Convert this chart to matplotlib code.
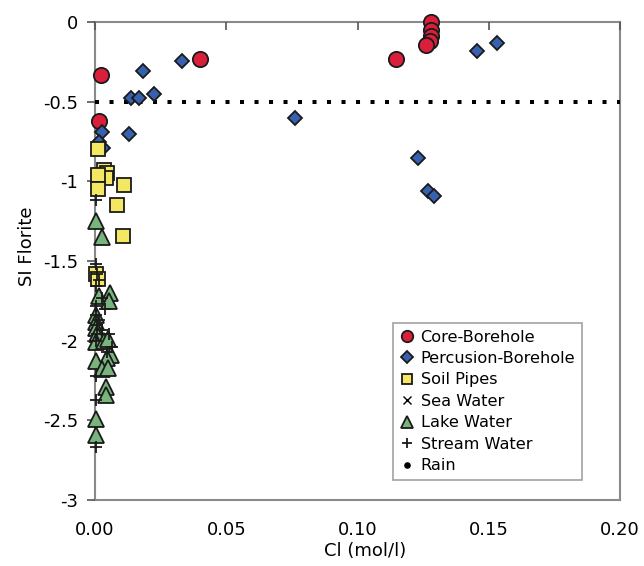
import matplotlib
matplotlib.use("Agg")
import matplotlib.pyplot as plt

# Fluorite saturation index vs chloride, by sample type
core_cl = [0.0023, 0.0015, 0.040, 0.1147, 0.128, 0.128, 0.128, 0.1275, 0.126]
core_si = [-0.33, -0.62, -0.23, -0.23, 0.00, -0.05, -0.09, -0.12, -0.145]

perc_cl = [0.0331, 0.0183, 0.0137, 0.0168, 0.0225, 0.013, 0.0025, 0.0015, 0.003,
           0.0762, 0.123, 0.1269, 0.129, 0.1455, 0.153]
perc_si = [-0.245, -0.31, -0.48, -0.48, -0.45, -0.70, -0.69, -0.75, -0.79,
           -0.60, -0.855, -1.06, -1.09, -0.18, -0.13]

soil_cl = [0.001, 0.0035, 0.0045, 0.004, 0.001, 0.001, 0.011, 0.0085, 0.0107, 0.0005, 0.001]
soil_si = [-0.80, -0.93, -0.95, -0.98, -0.96, -1.05, -1.02, -1.15, -1.34, -1.58, -1.61]

sea_cl = []
sea_si = []

lake_cl = [0.0003, 0.0028, 0.0017, 0.0057, 0.0055, 0.0002, 0.0005, 0.0003, 0.0008,
           0.0004, 0.0035, 0.005, 0.0062, 0.0045, 0.0003, 0.0028, 0.0048, 0.004,
           0.0042, 0.0002, 0.0002]
lake_si = [-1.25, -1.35, -1.72, -1.70, -1.75, -1.84, -1.88, -1.92, -1.96,
           -2.01, -2.00, -1.99, -2.09, -2.11, -2.13, -2.18, -2.17, -2.29,
           -2.34, -2.49, -2.59]

stream_cl = [0.0003, 0.0002, 0.0008, 0.0015, 0.0002, 0.0025, 0.0005, 0.0038, 0.0003,
             0.0015, 0.0006, 0.0025, 0.0008, 0.0055, 0.0003, 0.0065, 0.0045, 0.0003,
             0.0003, 0.0003]
stream_si = [-1.12, -1.52, -1.58, -1.62, -1.66, -1.73, -1.78, -1.80, -1.84,
             -1.87, -1.90, -1.93, -1.96, -1.96, -2.00, -2.04, -2.07, -2.22,
             -2.37, -2.67]

rain_cl = []
rain_si = []

equilibrium_band = -0.5
x_ticks = [0.00, 0.05, 0.10, 0.15, 0.20]
x_tick_labels = ["0.00", "0.05", "0.10", "0.15", "0.20"]
y_ticks = [0, -0.5, -1, -1.5, -2, -2.5, -3]
y_tick_labels = ["0", "-0.5", "-1", "-1.5", "-2", "-2.5", "-3"]

plt.rcParams['font.family'] = ['DejaVu Sans']
fig = plt.figure(figsize=(6.44, 5.66), dpi=100)
ax = fig.add_axes([95 / 644, 1 - 500 / 566, 525 / 644, 478 / 566])

edge = "#1a1a1a"
ax.plot([x_ticks[0], x_ticks[-1]], [equilibrium_band, equilibrium_band],
        color="black", linewidth=2.9, linestyle=(0, (1, 2.6)),
        dash_capstyle="butt", zorder=1)

common = dict(linestyle="none", clip_on=False)
ax.plot(core_cl, core_si, marker="o", markersize=11,
        markerfacecolor="#DA1F3A", markeredgecolor=edge, markeredgewidth=1.3,
        label="Core-Borehole", zorder=3, **common)
ax.plot(perc_cl, perc_si, marker="D", markersize=7.6,
        markerfacecolor="#3761AE", markeredgecolor=edge, markeredgewidth=1.3,
        label="Percusion-Borehole", zorder=4, **common)
ax.plot(soil_cl, soil_si, marker="s", markersize=9.8,
        markerfacecolor="#F4E862", markeredgecolor=edge, markeredgewidth=1.3,
        label="Soil Pipes", zorder=5, **common)
ax.plot(sea_cl, sea_si, marker="x", markersize=7,
        color="black", markeredgewidth=1.0, label="Sea Water", zorder=6, **common)
ax.plot(lake_cl, lake_si, marker="^", markersize=11,
        markerfacecolor="#78B47C", markeredgecolor=edge, markeredgewidth=1.3,
        label="Lake Water", zorder=7, **common)
ax.plot(stream_cl, stream_si, marker="+", markersize=9,
        color=edge, markeredgewidth=1.3, label="Stream Water", zorder=8, **common)
ax.plot(rain_cl, rain_si, marker="o", markersize=5,
        color="black", label="Rain", zorder=9, **common)

ax.set_xlim(0, 0.20)
ax.set_ylim(-3, 0)
ax.set_xticks(x_ticks)
ax.set_xticklabels(x_tick_labels)
ax.set_yticks(y_ticks)
ax.set_yticklabels(y_tick_labels)

for sp in ax.spines.values():
    sp.set_color("#8a8a8a")
    sp.set_linewidth(1.5)
    sp.set_zorder(0.5)

ax.tick_params(axis="x", top=True, bottom=False, labeltop=False, labelbottom=True,
               direction="in", length=6, width=1.2, color="#555555",
               labelsize=13, pad=15)
ax.tick_params(axis="y", direction="out", length=6, width=1.2, color="#555555",
               labelsize=13, pad=6)

ax.set_xlabel("Cl (mol/l)", fontsize=13)
ax.set_ylabel("SI Florite", fontsize=13)
ax.xaxis.set_label_coords(0.514, -0.088)
ax.yaxis.set_label_coords(-0.112, 0.531)

leg = ax.legend(loc="upper left", bbox_to_anchor=(0.568, 0.370), fontsize=11.6,
                markerscale=0.75, handlelength=0.9, handletextpad=0.4,
                labelspacing=0.4, borderpad=0.4, borderaxespad=0,
                fancybox=False, frameon=True, edgecolor="#8a8a8a")
leg.get_frame().set_linewidth(1.2)
leg.set_zorder(10)

fig.savefig("out.png", dpi=100)
